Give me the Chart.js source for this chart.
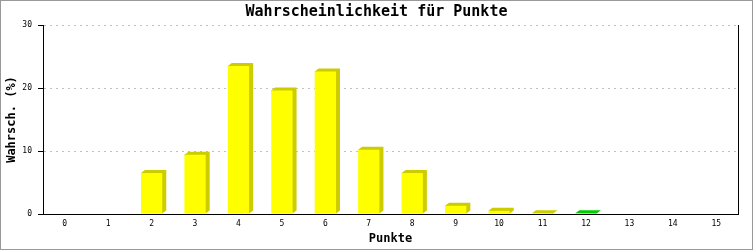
<!DOCTYPE html>
<html>
<head>
<meta charset="utf-8">
<script src="https://cdn.jsdelivr.net/npm/chart.js@4/dist/chart.umd.min.js"></script>
<style>
  body { margin: 0; background: #fff; }
</style>
</head>
<body>
<canvas id="Punkte_Chart" width="753" height="250"></canvas>
<script>
// data
var punkte = ['0','1','2','3','4','5','6','7','8','9','10','11','12','13','14','15'];
var wahrsch = [0, 0, 6.5, 9.4, 23.5, 19.6, 22.6, 10.2, 6.5, 1.3, 0.5, 0.1, 0.1, 0, 0, 0];
var yTicks = [0, 10, 20, 30];
var markedIndex = 12;

var monoFont = 'DejaVu Sans Mono';

// draws the darker top and side of each bar, taken from the bar elements
const depthPlugin = {
   id: 'depth',
   beforeDatasetsDraw: function(chart) {
      var ctx = chart.ctx;
      var meta = chart.getDatasetMeta(0);
      var dx = 4, dy = 3;
      ctx.save();
      meta.data.forEach(function(bar, i) {
         if (!(wahrsch[i] > 0)) return;
         var p = bar.getProps(['x', 'y', 'base', 'width'], true);
         var left = p.x - p.width / 2;
         var right = p.x + p.width / 2;
         ctx.fillStyle = i === markedIndex ? '#00cc00' : '#cccc00';
         ctx.beginPath();
         ctx.moveTo(left, p.y);
         ctx.lineTo(left + dx, p.y - dy);
         ctx.lineTo(right + dx, p.y - dy);
         ctx.lineTo(right + dx, p.base - dy);
         ctx.lineTo(right, p.base);
         ctx.closePath();
         ctx.fill();
      });
      ctx.restore();
   }
};

const framePlugin = {
   id: 'frame',
   afterDraw: function(chart) {
      var ctx = chart.ctx;
      ctx.save();
      ctx.strokeStyle = '#999999';
      ctx.lineWidth = 1;
      ctx.strokeRect(0.5, 0.5, chart.width - 1, chart.height - 1);
      ctx.restore();
   }
};

function getData(){
   const data = {
      labels: punkte,
      datasets: [{
         label: 'Wahrsch.',
         data: wahrsch,
         backgroundColor: function(c) { return c.dataIndex === markedIndex ? '#00ff00' : '#ffff00'; },
         borderWidth: 0,
         categoryPercentage: 1.0,
         barPercentage: 0.49
      }]
   };
   return data;
}

function getOptions(){
   return {
      responsive: false,
      animation: false,
      devicePixelRatio: 1,
      layout: { padding: 0 },
      plugins: {
         legend: { display: false },
         tooltip: { enabled: false },
         title: {
            display: true,
            text: 'Wahrscheinlichkeit für Punkte',
            color: '#000',
            font: { family: monoFont, size: 15, weight: 'bold', lineHeight: 1 },
            padding: { top: 5, bottom: 5 }
         }
      },
      scales: {
         x: {
            type: 'category',
            offset: true,
            grid: { display: false, drawTicks: false },
            border: { display: true, color: '#000', width: 1 },
            ticks: { color: '#000', font: { family: monoFont, size: 8 }, padding: 5, maxRotation: 0, autoSkip: false },
            title: {
               display: true,
               text: 'Punkte',
               color: '#000',
               font: { family: monoFont, size: 12, weight: 'bold', lineHeight: 1 },
               padding: { top: 0, bottom: 5 }
            },
            afterFit: function(scale) { scale.height = 36; }
         },
         y: {
            position: 'left',
            min: 0,
            max: 30,
            afterBuildTicks: function(scale) { scale.ticks = yTicks.map(function(v) { return { value: v }; }); },
            grid: {
               color: '#c0c0c0',
               tickLength: 5,
               tickColor: '#000',
               tickBorderDash: []
            },
            border: { display: true, color: '#000', width: 1, dash: [2, 4] },
            ticks: { color: '#000', font: { family: monoFont, size: 8 }, padding: 6 },
            title: {
               display: true,
               text: 'Wahrsch. (%)',
               color: '#000',
               font: { family: monoFont, size: 12, weight: 'bold', lineHeight: 1 },
               padding: { top: 6, bottom: 0 }
            },
            afterFit: function(scale) { scale.width = 43; }
         },
         y2: {
            position: 'right',
            min: 0,
            max: 30,
            grid: { drawOnChartArea: false, drawTicks: false },
            border: { display: true, color: '#000', width: 1 },
            ticks: { display: false },
            afterFit: function(scale) { scale.width = 15; }
         }
      }
   };
}

function getConfig(){
   const config = {
      type: 'bar',
      data: getData(),
      options: getOptions(),
      plugins: [depthPlugin, framePlugin]
   };
   return config;
}

var myPunkteChart = new Chart(
   document.getElementById('Punkte_Chart'),
   getConfig()
);
</script>
</body>
</html>
